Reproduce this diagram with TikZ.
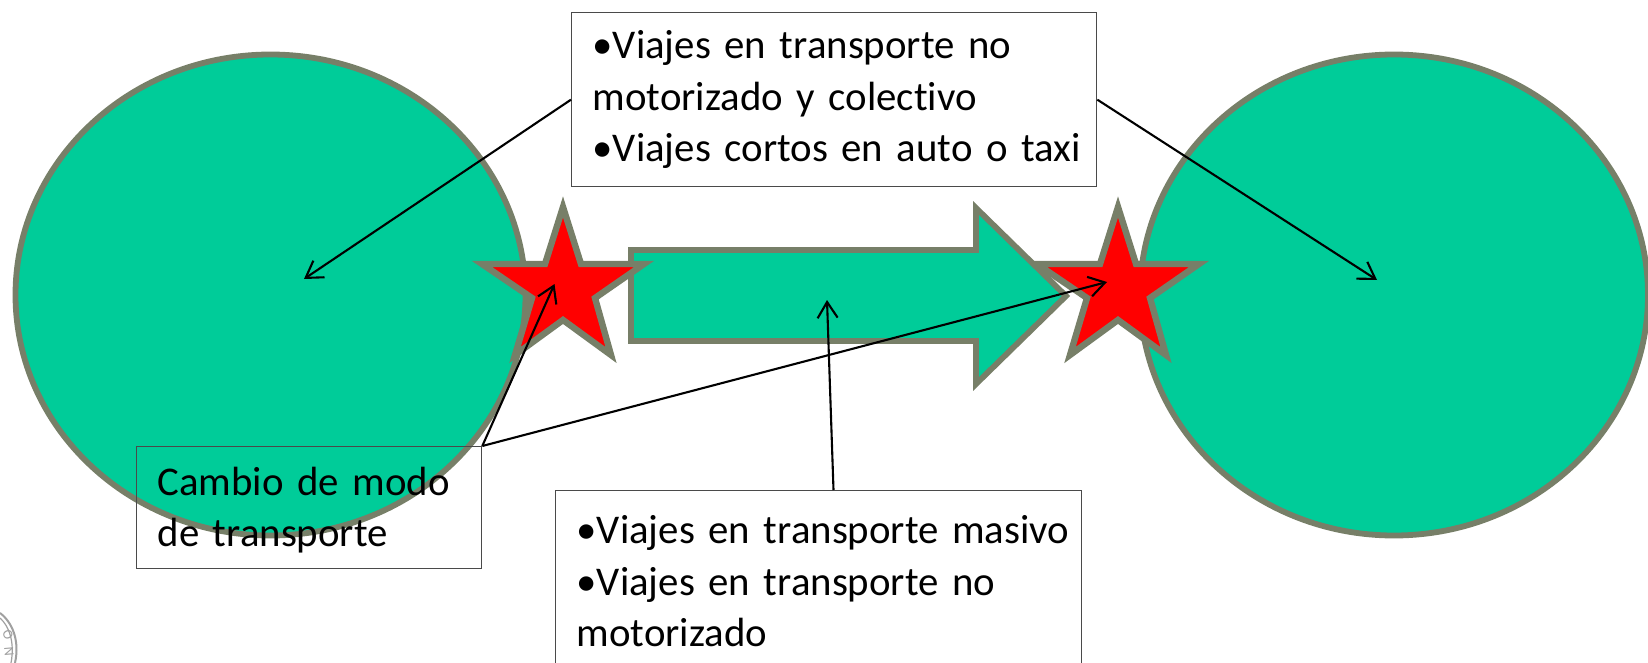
\documentclass[tikz,border=0pt]{standalone}
\usepackage{fontspec}
\setmainfont[WordSpace=0.55,Ligatures=NoCommon,Contextuals=NoAlternate]{Carlito}
\usetikzlibrary{arrows.meta,shapes.geometric}
\definecolor{fillgreen}{HTML}{00CC99}
\definecolor{edgeolive}{HTML}{777F68}
\definecolor{boxedge}{HTML}{4A4A4A}
\definecolor{sealgrey}{HTML}{A0A0A0}
\tikzset{
  blob/.style={draw=edgeolive,fill=fillgreen,line width=2.9pt,miter limit=10},
  hotstar/.style={draw=edgeolive,fill=red,line width=3.2pt,miter limit=10},
  textbox/.style={draw=boxedge,line width=0.65pt,anchor=north west,inner xsep=10.5pt,inner ysep=0pt,align=left,font=\fontsize{20.4}{25.6}\selectfont},
  pointer/.style={draw=black,line width=1.05pt,-{Straight Barb[length=8pt,width=10pt,line width=1.05pt]}},
}
\begin{document}
\begin{tikzpicture}[x=0.5pt,y=-0.5pt]
\useasboundingbox (0,0) rectangle (1648,663);
\clip (0,0) rectangle (1648,663);
% seal fragment
\draw[sealgrey,line width=1pt] (0,613) .. controls (12,622) and (20,640) .. (15,663);
\draw[sealgrey,line width=0.6pt] (0,618) .. controls (9,626) and (15,642) .. (11,663);
\node[text=sealgrey,rotate=-65,font=\fontsize{7}{7}\selectfont,inner sep=0pt] (sealO) at (8,635) {O};
\node[text=sealgrey,rotate=-85,font=\fontsize{7}{7}\selectfont,inner sep=0pt] (sealN) at (9,652) {N};
% circles
\node[blob,ellipse,minimum width=255pt,minimum height=240.5pt,inner sep=0pt,outer sep=0pt] (left) at (270.5,295) {};
\node[blob,ellipse,minimum width=254pt,minimum height=240.5pt,inner sep=0pt,outer sep=0pt] (right) at (1394,295) {};
% block arrow
\draw[blob] (631,250) -- (976,250) -- (976,208) -- (1066,296) -- (976,384) -- (976,341) -- (631,341) -- cycle;
% stars
\foreach \dx in {0,555}{
  \draw[hotstar,xshift=\dx*0.5pt] (563,207) -- (581,264) -- (644,264) -- (595,298) -- (611,355) -- (563,320) -- (515,355) -- (532,298) -- (482,264) -- (545,264) -- cycle;
}
% boxes
\node[textbox,fill=white,minimum width=262.5pt,minimum height=87pt,text width=241.5pt] (top) at (571,12)
 {\mbox{•Viajes en transporte no}\\\mbox{motorizado y colectivo}\\\mbox{•Viajes cortos en auto o taxi}};
\node[textbox,fill=white,minimum width=263pt,minimum height=100pt,text width=242pt] (bottom) at (555,490)
 {\mbox{•Viajes en transporte masivo}\\\mbox{•Viajes en transporte no}\\\mbox{motorizado}\rule[-9.5pt]{0pt}{1pt}};
\node[textbox,minimum width=172.5pt,minimum height=61pt,text width=151.5pt] (cambio) at (136,446)
 {\rule{0pt}{16.5pt}\mbox{Cambio de modo}\\\mbox{de transporte}};
% connector ends
\coordinate (lefttarget) at (304,279);
\coordinate (righttarget) at (1377,280);
\coordinate (star1) at (554.5,284);
\coordinate (star2) at (1107,282);
\coordinate (arrowtarget) at (827,300);
\coordinate (topL) at (top.west);
\coordinate (topR) at (top.east);
\draw[pointer] (topL) -- (lefttarget);
\draw[pointer] (topR) -- (righttarget);
\draw[pointer] (cambio.north east) -- (star1);
\draw[pointer] (cambio.north east) -- (star2);
\draw[pointer] (833.5,490) -- (arrowtarget);
\end{tikzpicture}
\end{document}
